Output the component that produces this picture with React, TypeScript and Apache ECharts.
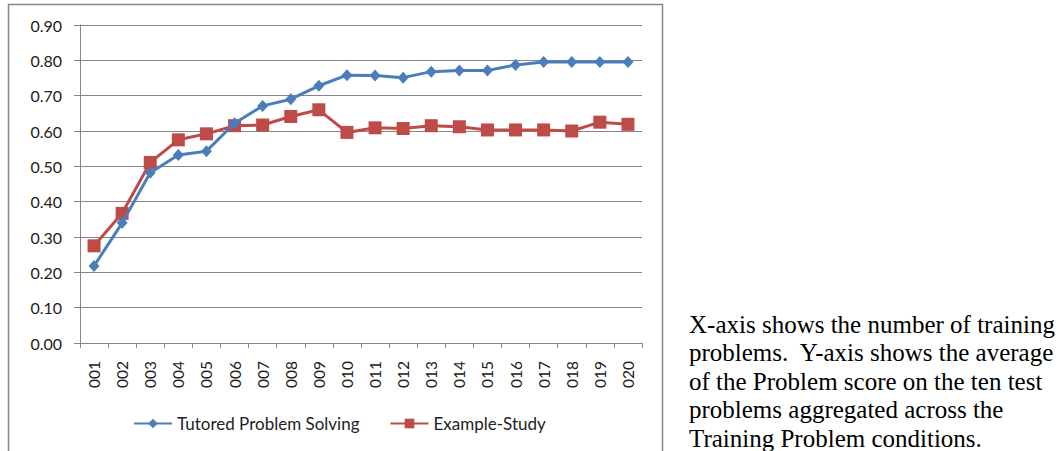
import React, { useEffect, useRef } from "react";
import * as echarts from "echarts";

// Training problem index (x-axis categories)
const problems = [
  "001", "002", "003", "004", "005", "006", "007", "008", "009", "010",
  "011", "012", "013", "014", "015", "016", "017", "018", "019", "020",
];

// Average problem score on the ten test problems
const tutoredProblemSolving = [
  0.218, 0.34, 0.482, 0.532, 0.543, 0.622, 0.671, 0.69, 0.728, 0.758,
  0.757, 0.751, 0.768, 0.771, 0.771, 0.787, 0.795, 0.795, 0.795, 0.795,
];
const exampleStudy = [
  0.275, 0.367, 0.511, 0.575, 0.592, 0.615, 0.617, 0.641, 0.66, 0.596,
  0.609, 0.607, 0.615, 0.612, 0.603, 0.603, 0.603, 0.6, 0.625, 0.619,
];

const seriesNames = ["Tutored Problem Solving", "Example-Study"];

const caption = [
  "X-axis shows the number of training",
  "problems.  Y-axis shows the average",
  "of the Problem score on the ten test",
  "problems aggregated across the",
  "Training Problem conditions.",
];

const BLUE = "#4a7ebb";
const RED = "#be4b48";
const GRAY = "#868686";
const FONT = "Lato, 'Open Sans', sans-serif";

export default function App() {
  const ref = useRef<HTMLDivElement>(null);

  useEffect(() => {
    document.body.style.margin = "0";
    if (!ref.current) return;
    const chart = echarts.init(ref.current, undefined, { renderer: "svg" });
    chart.setOption({
      animation: false,
      backgroundColor: "#ffffff",
      grid: { left: 80, right: 421, top: 25, bottom: 108, containLabel: false },
      legend: {
        left: 128,
        top: 410,
        itemWidth: 38,
        itemHeight: 12,
        itemGap: 30,
        textStyle: { fontFamily: FONT, fontSize: 17, color: "#222" },
        data: seriesNames,
      },
      xAxis: {
        type: "category",
        data: problems,
        boundaryGap: true,
        axisLine: { lineStyle: { color: GRAY, width: 1 } },
        axisTick: { show: true, interval: 0, length: 5, lineStyle: { color: GRAY } },
        axisLabel: {
          rotate: 90,
          interval: 0,
          margin: 18,
          fontFamily: FONT,
          fontSize: 15.5,
          color: "#222",
        },
        splitLine: { show: false },
      },
      yAxis: {
        type: "value",
        min: 0,
        max: 0.9,
        interval: 0.1,
        axisLine: { show: true, lineStyle: { color: GRAY, width: 1 } },
        axisTick: { show: true, length: 6, lineStyle: { color: GRAY } },
        axisLabel: {
          margin: 18,
          fontFamily: FONT,
          fontSize: 16,
          color: "#222",
          formatter: (v: number) => v.toFixed(2),
        },
        splitLine: { show: true, lineStyle: { color: GRAY, width: 1 } },
      },
      series: [
        {
          name: seriesNames[0],
          type: "line",
          data: tutoredProblemSolving,
          symbol: "diamond",
          symbolSize: [11, 12],
          lineStyle: { color: BLUE, width: 3 },
          itemStyle: { color: BLUE },
          z: 3,
        },
        {
          name: seriesNames[1],
          type: "line",
          data: exampleStudy,
          symbol: "rect",
          symbolSize: 13,
          lineStyle: { color: RED, width: 3 },
          itemStyle: { color: RED },
          z: 2,
        },
      ],
      graphic: [
        {
          type: "rect",
          shape: { x: 8.5, y: 4.5, width: 654, height: 500 },
          style: { fill: "none", stroke: GRAY, lineWidth: 1.5 },
          silent: true,
        },
        {
          type: "text",
          x: 689,
          y: 310,
          style: {
            text: caption.join("\n"),
            fontFamily: "'Liberation Serif', 'Times New Roman', serif",
            fontSize: 25,
            lineHeight: 28.5,
            fill: "#000",
          },
        },
      ],
    });
    return () => chart.dispose();
  }, []);

  return <div ref={ref} style={{ width: 1063, height: 451 }} />;
}
